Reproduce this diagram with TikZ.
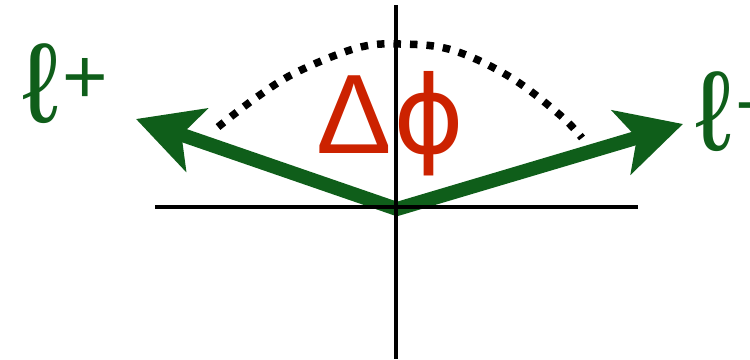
\documentclass[tikz,border=0pt]{standalone}
\usepackage{fontspec}
\setmainfont{Liberation Sans}
\newfontfamily\djv{DejaVu Sans}
\usetikzlibrary{arrows.meta}
\definecolor{lgreen}{RGB}{15,94,26}
\definecolor{dred}{RGB}{204,34,0}
\tikzset{
  axis/.style={line width=4pt, black},
  lepton/.style={line width=14pt, lgreen, line join=miter,
    arrows={Stealth[length=64pt,width=66pt,inset=16pt]-Stealth[length=64pt,width=66pt,inset=16pt]}},
  dotarc/.style={line width=7.5pt, black, dash pattern=on 7.5pt off 9pt},
  bigtxt/.style={inner sep=0pt, anchor=base west, font=\fontsize{113}{113}\selectfont},
}
\newcommand{\supsign}[1]{{\fontsize{78}{78}\selectfont\raisebox{19pt}{#1}}}
\begin{document}
\begin{tikzpicture}[x=1pt,y=-1pt]
\useasboundingbox (0,0) rectangle (750,359);
% text
\node[bigtxt, text=dred] (dphi) at (316,153) {Δ\kern2pt{\djv\fontsize{108}{108}\selectfont ϕ}};
\node[bigtxt, text=lgreen] (lplus) at (22,122) {ℓ\kern4pt\supsign{+}};
\node[bigtxt, text=lgreen] (lminus) at (695,150) {ℓ\kern4pt\supsign{−}};
% dotted arc
\draw[dotarc] plot[smooth, tension=0.6] coordinates {(218,127) (257,97) (297,72) (357,48) (400,44) (452,50) (510,77) (560,115) (582,138)};
% lepton arrows
\coordinate (O) at (397,209);
\coordinate (tl) at (136,119);
\coordinate (tr) at (683,124);
\draw[lepton] (tl) -- (O) -- (tr);
% axes
\coordinate (xa) at (155,207);
\coordinate (xb) at (638,207);
\coordinate (ya) at (396,5);
\coordinate (yb) at (396,359);
\draw[axis] (xa) -- (xb);
\draw[axis] (ya) -- (yb);
\end{tikzpicture}
\end{document}
